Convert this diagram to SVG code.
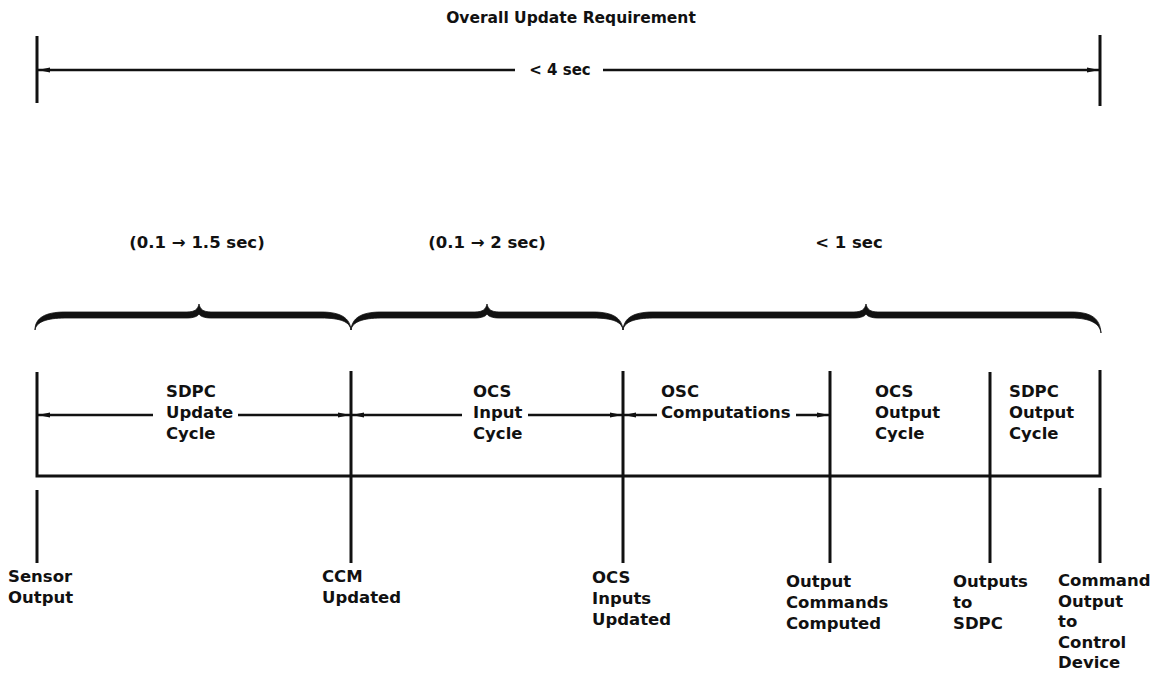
<svg xmlns="http://www.w3.org/2000/svg" width="1167" height="675" viewBox="0 0 1167 675">
<style>
text{font-family:"DejaVu Sans","Liberation Sans",sans-serif;font-weight:bold;font-size:16.5px;fill:#111}
.t{font-size:15.5px}
.ln{stroke:#111;stroke-width:2.6;fill:none;stroke-linecap:butt}
.vt{stroke:#111;stroke-width:3;fill:none}
.br{fill:#111;stroke:#111;stroke-width:0.8;stroke-linejoin:round}
</style>
<defs>
<marker id="ah" viewBox="0 0 12 6" refX="12" refY="3" markerWidth="12" markerHeight="6" markerUnits="userSpaceOnUse" orient="auto-start-reverse">
<path d="M0,0.6 L12,3 L0,5.4 Z" fill="#111"/>
</marker>
</defs>
<rect width="1167" height="675" fill="#fff"/>

<g id="overall">
<text class="t" x="571" y="23" text-anchor="middle">Overall Update Requirement</text>
<text x="560" y="75" text-anchor="middle" style="font-size:15px">&lt; 4 sec</text>
</g>

<g id="brace-labels">
<text id="lbl-sdpc-range" x="197" y="248" text-anchor="middle">(0.1 → 1.5 sec)</text>
<text id="lbl-ocs-range" x="487" y="248" text-anchor="middle">(0.1 → 2 sec)</text>
<text id="lbl-out-range" x="849" y="248" text-anchor="middle">&lt; 1 sec</text>
</g>

<g id="braces">
<path class="br" d="M35,330 C35,318 45,312 65,312 L187,312 C195,312 198,309 199,304 C200,309 203,312 211,312 L321,312 C341,312 350,318 351,330 C350,322 341,318 321,318 L211,318 C204,318 200,316 199,314 C198,316 194,318 187,318 L65,318 C47,318 36,322 35,330 Z"/>
<path class="br" d="M351,330 C352,318 361,312 381,312 L475,312 C483,312 486,309 487,304 C488,309 491,312 499,312 L593,312 C613,312 622,318 623,330 C622,322 613,318 593,318 L499,318 C492,318 488,316 487,314 C486,316 482,318 475,318 L381,318 C363,318 352,322 351,330 Z"/>
<path class="br" d="M623,330 C624,318 633,312 653,312 L854,312 C862,312 865,309 866,304 C867,309 870,312 878,312 L1071,312 C1091,312 1100,318 1101,333 C1100,324 1091,318 1071,318 L878,318 C871,318 867,316 866,314 C865,316 861,318 854,318 L653,318 C635,318 624,322 623,330 Z"/>
</g>

<g id="connectors">
<line class="vt" x1="37" y1="36" x2="37" y2="103"/>
<line class="vt" x1="1100" y1="35" x2="1100" y2="106"/>
<line class="ln" x1="515" y1="70" x2="38" y2="70" marker-end="url(#ah)"/>
<line class="ln" x1="603" y1="70" x2="1099" y2="70" marker-end="url(#ah)"/>

<path class="vt" d="M37,372 L37,476 L1100,476 L1100,370"/>
<line class="vt" x1="351" y1="371" x2="351" y2="563"/>
<line class="vt" x1="623" y1="371" x2="623" y2="563"/>
<line class="vt" x1="830" y1="371" x2="830" y2="563"/>
<line class="vt" x1="990" y1="372" x2="990" y2="563"/>
<line class="vt" x1="37" y1="490" x2="37" y2="563"/>
<line class="vt" x1="1100" y1="488" x2="1100" y2="563"/>

<line class="ln" x1="153" y1="415" x2="38" y2="415" marker-end="url(#ah)"/>
<line class="ln" x1="238" y1="415" x2="350" y2="415" marker-end="url(#ah)"/>
<line class="ln" x1="462" y1="415" x2="352" y2="415" marker-end="url(#ah)"/>
<line class="ln" x1="528" y1="415" x2="622" y2="415" marker-end="url(#ah)"/>
<line class="ln" x1="657" y1="415" x2="624" y2="415" marker-end="url(#ah)"/>
<line class="ln" x1="796" y1="415" x2="829" y2="415" marker-end="url(#ah)"/>
</g>

<g id="sdpc-update-cycle"><text x="166" y="397">SDPC</text><text x="166" y="418">Update</text><text x="166" y="439">Cycle</text></g>
<g id="ocs-input-cycle"><text x="473" y="397">OCS</text><text x="473" y="418">Input</text><text x="473" y="439">Cycle</text></g>
<g id="osc-computations"><text x="661" y="397">OSC</text><text x="661" y="418">Computations</text></g>
<g id="ocs-output-cycle"><text x="875" y="397">OCS</text><text x="875" y="418">Output</text><text x="875" y="439">Cycle</text></g>
<g id="sdpc-output-cycle"><text x="1009" y="397">SDPC</text><text x="1009" y="418">Output</text><text x="1009" y="439">Cycle</text></g>

<g id="sensor-output"><text x="8" y="582">Sensor</text><text x="8" y="603">Output</text></g>
<g id="ccm-updated"><text x="322" y="582">CCM</text><text x="322" y="603">Updated</text></g>
<g id="ocs-inputs-updated"><text x="592" y="583">OCS</text><text x="592" y="604">Inputs</text><text x="592" y="625">Updated</text></g>
<g id="output-commands-computed"><text x="786" y="587">Output</text><text x="786" y="608">Commands</text><text x="786" y="629">Computed</text></g>
<g id="outputs-to-sdpc"><text x="953" y="587">Outputs</text><text x="953" y="608">to</text><text x="953" y="629">SDPC</text></g>
<g id="command-output"><text x="1058" y="586">Command</text><text x="1058" y="606.5">Output</text><text x="1058" y="627">to</text><text x="1058" y="647.5">Control</text><text x="1058" y="668">Device</text></g>
</svg>
